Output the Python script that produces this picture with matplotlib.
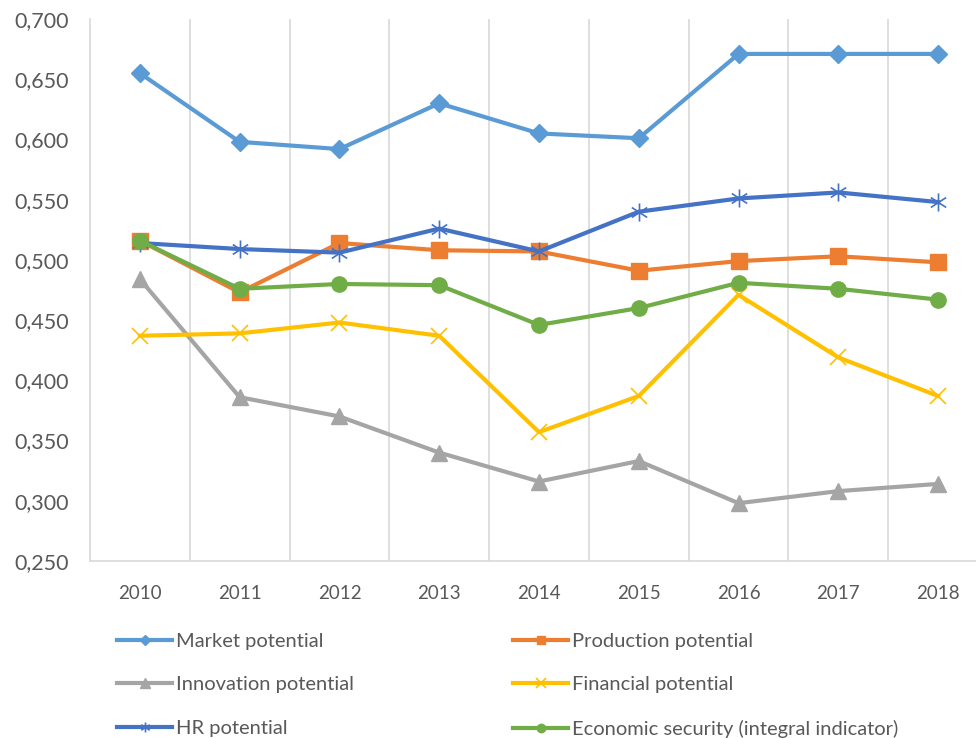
import matplotlib
matplotlib.use("Agg")
import matplotlib.pyplot as plt
from matplotlib.path import Path
from matplotlib.ticker import FuncFormatter, FixedLocator

years = [2010, 2011, 2012, 2013, 2014, 2015, 2016, 2017, 2018]
market = [0.655, 0.598, 0.592, 0.630, 0.605, 0.601, 0.671, 0.671, 0.671]
production = [0.516, 0.473, 0.514, 0.508, 0.507, 0.491, 0.499, 0.503, 0.498]
innovation = [0.484, 0.386, 0.370, 0.340, 0.316, 0.333, 0.298, 0.308, 0.314]
financial = [0.437, 0.439, 0.448, 0.437, 0.357, 0.387, 0.471, 0.419, 0.387]
hr = [0.514, 0.509, 0.506, 0.526, 0.507, 0.540, 0.551, 0.556, 0.548]
economic = [0.516, 0.476, 0.480, 0.479, 0.446, 0.460, 0.481, 0.476, 0.467]

labels = ["Market potential", "Production potential", "Innovation potential",
          "Financial potential", "HR potential", "Economic security (integral indicator)"]

plt.rcParams['font.family'] = ['Lato', 'DejaVu Sans']
txt = '#595959'
grid = '#D9D9D9'

fig = plt.figure(figsize=(9.76, 7.38), dpi=100)
W, H = 976, 738
left, right, top, bottom = 90, 988, 19, 561
ax = fig.add_axes([left / W, (H - bottom) / H, (right - left) / W, (bottom - top) / H])

star = Path([(0, -1), (0, 1), (-0.85, -0.55), (0.85, 0.55), (-0.85, 0.55), (0.85, -0.55)],
            [Path.MOVETO, Path.LINETO, Path.MOVETO, Path.LINETO, Path.MOVETO, Path.LINETO])

lw = 3.0
h = {}
h['m'], = ax.plot(years, market, color='#5B9BD5', lw=lw, marker='D', ms=9, label=labels[0])
h['p'], = ax.plot(years, production, color='#ED7D31', lw=lw, marker='s', ms=11, label=labels[1])
h['i'], = ax.plot(years, innovation, color='#A5A5A5', lw=lw, marker='^', ms=12, label=labels[2])
h['f'], = ax.plot(years, financial, color='#FFC000', lw=lw, marker='x', ms=12, mew=1.2, label=labels[3])
h['h'], = ax.plot(years, hr, color='#4472C4', lw=lw, marker=star, ms=13, mew=1.2,
                  mfc='none', label=labels[4])
h['e'], = ax.plot(years, economic, color='#70AD47', lw=lw, marker='o', ms=11, label=labels[5])

ax.set_xlim(2009.5, 2018.5)
ax.set_ylim(0.25, 0.70)
ax.set_xticks(years)
ax.set_xticklabels([str(y) for y in years])
ax.set_yticks([0.25 + 0.05 * k for k in range(10)])
ax.yaxis.set_major_formatter(FuncFormatter(lambda v, p: f"{v:.3f}".replace('.', ',')))
ax.xaxis.set_minor_locator(FixedLocator([2009.5 + k for k in range(1, 10)]))
ax.grid(which='minor', axis='x', color=grid, lw=1.2)
ax.set_axisbelow(True)
ax.tick_params(which='both', length=0)
ax.tick_params(axis='y', pad=15, labelsize=15.5, labelcolor=txt)
ax.tick_params(axis='x', pad=17, labelsize=13.5, labelcolor=txt)
for s in ['top', 'right']:
    ax.spines[s].set_visible(False)
for s in ['left', 'bottom']:
    ax.spines[s].set_color(grid)
    ax.spines[s].set_linewidth(1.2)

common = dict(frameon=False, fontsize=14.5, labelcolor=txt, handlelength=2.75,
              handletextpad=0.2, labelspacing=1.3, borderpad=0, borderaxespad=0,
              markerscale=0.55, loc='upper left')
leg1 = fig.legend([h['m'], h['i'], h['h']], [labels[0], labels[2], labels[4]],
                  bbox_to_anchor=(117 / W, 1 - 633 / H), **common)
leg2 = fig.legend([h['p'], h['f'], h['e']], [labels[1], labels[3], labels[5]],
                  bbox_to_anchor=(513 / W, 1 - 633 / H), **common)

fig.savefig("out.png", dpi=100)
